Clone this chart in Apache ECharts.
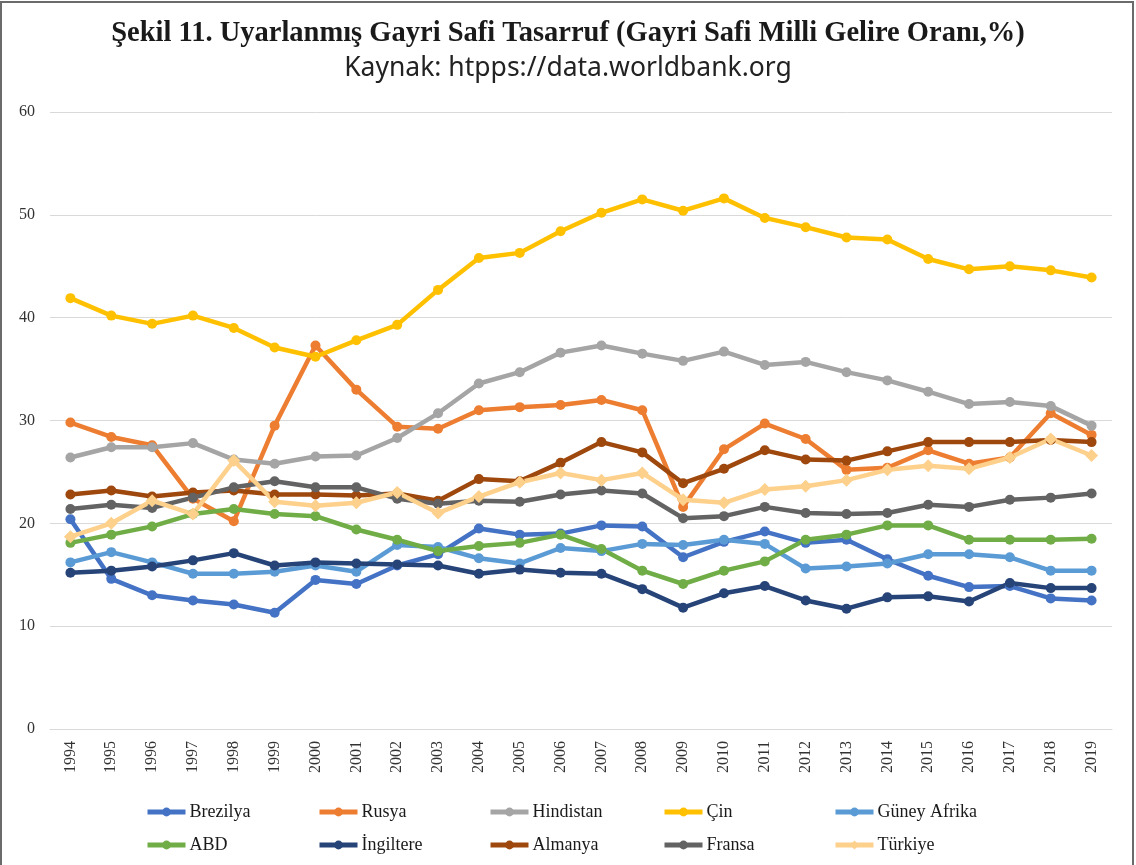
<!DOCTYPE html>
<html>
<head>
<meta charset="utf-8">
<script src="https://cdn.jsdelivr.net/npm/echarts@6/dist/echarts.min.js"></script>
<style>
  html, body { margin: 0; padding: 0; background: #fff; }
  #chart { width: 1136px; height: 865px; }
</style>
</head>
<body>
<div id="chart"></div>
<script>
// data (% of GNI)
var years = ["1994","1995","1996","1997","1998","1999","2000","2001","2002","2003","2004","2005","2006",
  "2007","2008","2009","2010","2011","2012","2013","2014","2015","2016","2017","2018","2019"];
var yTicks = [0, 10, 20, 30, 40, 50, 60];

var brezilya = [20.4,14.6,13.0,12.5,12.1,11.3,14.5,14.1,15.9,17.0,19.5,18.9,19.0,19.8,19.7,16.7,18.2,19.2,18.1,18.4,16.5,14.9,13.8,13.9,12.7,12.5];
var rusya = [29.8,28.4,27.6,22.4,20.2,29.5,37.3,33.0,29.4,29.2,31.0,31.3,31.5,32.0,31.0,21.6,27.2,29.7,28.2,25.2,25.4,27.1,25.8,26.4,30.7,28.6];
var hindistan = [26.4,27.4,27.4,27.8,26.2,25.8,26.5,26.6,28.3,30.7,33.6,34.7,36.6,37.3,36.5,35.8,36.7,35.4,35.7,34.7,33.9,32.8,31.6,31.8,31.4,29.5];
var cin = [41.9,40.2,39.4,40.2,39.0,37.1,36.2,37.8,39.3,42.7,45.8,46.3,48.4,50.2,51.5,50.4,51.6,49.7,48.8,47.8,47.6,45.7,44.7,45.0,44.6,43.9];
var guneyAfrika = [16.2,17.2,16.2,15.1,15.1,15.3,15.9,15.3,17.9,17.7,16.6,16.1,17.6,17.3,18.0,17.9,18.4,18.0,15.6,15.8,16.1,17.0,17.0,16.7,15.4,15.4];
var abd = [18.1,18.9,19.7,20.9,21.4,20.9,20.7,19.4,18.4,17.3,17.8,18.1,18.9,17.5,15.4,14.1,15.4,16.3,18.4,18.9,19.8,19.8,18.4,18.4,18.4,18.5];
var ingiltere = [15.2,15.4,15.8,16.4,17.1,15.9,16.2,16.1,16.0,15.9,15.1,15.5,15.2,15.1,13.6,11.8,13.2,13.9,12.5,11.7,12.8,12.9,12.4,14.2,13.7,13.7];
var almanya = [22.8,23.2,22.6,23.0,23.2,22.8,22.8,22.7,22.9,22.2,24.3,24.1,25.9,27.9,26.9,23.9,25.3,27.1,26.2,26.1,27.0,27.9,27.9,27.9,28.1,27.9];
var fransa = [21.4,21.8,21.5,22.5,23.5,24.1,23.5,23.5,22.4,21.9,22.2,22.1,22.8,23.2,22.9,20.5,20.7,21.6,21.0,20.9,21.0,21.8,21.6,22.3,22.5,22.9];
var turkiye = [18.7,20.0,22.2,20.9,26.1,22.1,21.7,22.0,23.0,21.0,22.6,24.0,24.9,24.2,24.9,22.3,22.0,23.3,23.6,24.2,25.2,25.6,25.3,26.4,28.2,26.6];

var names = ["Brezilya","Rusya","Hindistan","Çin","Güney Afrika","ABD","İngiltere","Almanya","Fransa","Türkiye"];
var values = [brezilya, rusya, hindistan, cin, guneyAfrika, abd, ingiltere, almanya, fransa, turkiye];
var colors = ["#4472C4","#ED7D31","#A5A5A5","#FFC000","#5B9BD5","#70AD47","#264478","#9E480E","#636363","#FDD08C"];

var serif = "'Liberation Serif', 'DejaVu Serif', serif";

function makeSeries(i) {
  return {
    name: names[i],
    type: "line",
    data: values[i],
    symbol: i === 9 ? "diamond" : "circle",
    symbolSize: i === 9 ? 13 : 10,
    lineStyle: { width: 4.5, color: colors[i] },
    itemStyle: { color: colors[i], borderWidth: 0 },
    emphasis: { disabled: true }
  };
}

// one legend per item: five columns, two rows
function makeLegend(i) {
  var lefts = [145, 317, 488, 662, 833];
  var tops = [803, 836];
  return {
    left: lefts[i % 5],
    top: tops[Math.floor(i / 5)],
    padding: 0,
    itemWidth: 38,
    itemHeight: 11,
    lineStyle: { width: 5 },
    textStyle: { fontFamily: serif, fontSize: 18, color: "#1a1a1a", padding: [0, 0, 0, -1] },
    data: [names[i]]
  };
}

var series = [];
var legends = [];
for (var i = 0; i < names.length; i++) {
  series.push(makeSeries(i));
  legends.push(makeLegend(i));
}

var chart = echarts.init(document.getElementById("chart"));
chart.setOption({
  animation: false,
  color: colors,
  title: [
    {
      text: "Şekil 11. Uyarlanmış Gayri Safi Tasarruf (Gayri Safi Milli Gelire Oranı,%)",
      left: "center",
      top: 14,
      textStyle: { fontFamily: serif, fontSize: 28.5, fontWeight: "bold", color: "#1a1a1a" }
    },
    {
      text: "Kaynak: htpps://data.worldbank.org",
      left: "center",
      top: 50,
      textStyle: { fontFamily: "'Noto Sans', sans-serif", fontSize: 26.5, fontWeight: "normal", color: "#222" }
    }
  ],
  legend: legends,
  grid: { left: 50, right: 24, top: 112, bottom: 136 },
  xAxis: {
    type: "category",
    data: years,
    boundaryGap: true,
    axisLine: { show: true, lineStyle: { color: "#D9D9D9", width: 1 } },
    axisTick: { show: false },
    axisLabel: { rotate: 90, fontFamily: serif, fontSize: 16, color: "#333", margin: 12 }
  },
  yAxis: {
    type: "value",
    min: yTicks[0],
    max: yTicks[yTicks.length - 1],
    interval: 10,
    axisLine: { show: false },
    axisTick: { show: false },
    axisLabel: { fontFamily: serif, fontSize: 16, color: "#333", margin: 15 },
    splitLine: { lineStyle: { color: "#D9D9D9", width: 1 } }
  },
  series: series,
  graphic: [
    {
      type: "rect",
      shape: { x: 1, y: 2, width: 1132, height: 880 },
      style: { fill: null, stroke: "#6b6b6b", lineWidth: 2 },
      silent: true
    }
  ]
});
</script>
</body>
</html>
